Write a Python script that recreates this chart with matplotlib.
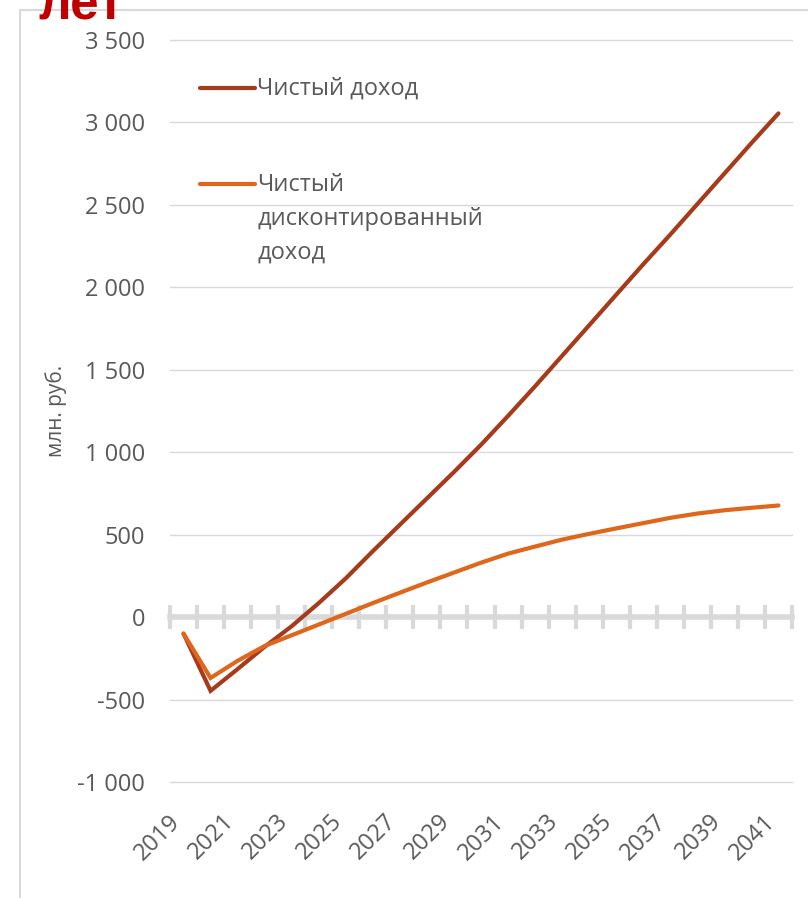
import matplotlib
matplotlib.use("Agg")
import matplotlib.pyplot as plt
import numpy as np
from matplotlib.patches import Rectangle
from matplotlib.transforms import ScaledTranslation

plt.rcParams['font.family'] = ['Open Sans', 'DejaVu Sans']

years = list(range(2019, 2042))
net = [-100, -447, -315, -180, -55, 85, 235, 400, 560, 720, 880, 1045,
       1220, 1400, 1585, 1770, 1955, 2140, 2320, 2505, 2690, 2875, 3055]
disc = [-100, -369, -265, -175, -110, -45, 20, 85, 148, 210, 270, 330,
        385, 428, 470, 505, 538, 570, 602, 628, 648, 663, 677]
labels = ["Чистый доход", "Чистый\nдисконтированный\nдоход"]
yticks = list(range(-1000, 3501, 500))

c_net = "#A63A1A"
c_disc = "#E0661C"
grey_txt = "#595959"
grid_c = "#d9d9d9"

W, H = 808, 898
fig = plt.figure(figsize=(W / 100, H / 100), dpi=100)
ax = fig.add_axes([170 / W, 1 - 782 / H, (792 - 170) / W, (782 - 40) / H])

x = np.arange(len(years))
ax.plot(x, net, color=c_net, lw=3, solid_joinstyle="miter", solid_capstyle="round", zorder=3)
ax.plot(x, disc, color=c_disc, lw=3, solid_joinstyle="miter", solid_capstyle="round", zorder=3)

ax.set_xlim(-0.5, len(years) - 0.5)
ax.set_ylim(-1000, 3500)
ax.set_yticks(yticks)
ax.set_yticklabels([f"{v:,}".replace(",", " ") for v in yticks])
ax.grid(axis="y", color=grid_c, lw=1)
for gl in ax.get_ygridlines():
    gl.set_clip_on(False)
ax.set_axisbelow(True)
for s in ax.spines.values():
    s.set_visible(False)
ax.tick_params(axis="y", length=0, pad=18, labelsize=17, labelcolor=grey_txt)

ax.set_xticks(x[::2])
ax.set_xticklabels([str(y) for y in years[::2]], rotation=45, ha="right",
                   va="center", rotation_mode="anchor")
ax.tick_params(axis="x", length=0, pad=26, labelsize=17, labelcolor=grey_txt)
for lab in ax.get_xticklabels():
    lab.set_transform(lab.get_transform() + ScaledTranslation(-0.07, 0, fig.dpi_scale_trans))

ax.set_ylabel("млн. руб.", fontsize=15, color=grey_txt, labelpad=7)

# horizontal category axis at y = 0
y0 = (0 - ax.get_ylim()[0]) / (ax.get_ylim()[1] - ax.get_ylim()[0])
sec = ax.secondary_xaxis(y0)
sec.set_xticks(np.arange(-0.5, len(years), 1.0))
sec.tick_params(axis="x", direction="inout", length=17, width=3, color=grid_c,
                labelbottom=False, labeltop=False)
for s in sec.spines.values():
    s.set_color(grid_c)
    s.set_linewidth(4)

# legend, handle aligned with first text line
for (yy, col, lab) in [(0.935, c_net, labels[0]), (0.806, c_disc, labels[1])]:
    ax.plot([0.048, 0.137], [yy, yy], color=col, lw=3, solid_capstyle="round",
            transform=ax.transAxes, clip_on=False)
    ax.text(0.140, yy + 0.015, lab, transform=ax.transAxes, ha="left", va="top",
            fontsize=17, color=grey_txt, linespacing=1.55)

# outer frame and clipped title
fig.add_artist(Rectangle((20 / W, -0.05), 1.0, 1.05 - 10 / H, fill=False,
                         edgecolor=grid_c, lw=1.5, transform=fig.transFigure, zorder=0))
fig.text(38 / W, 1 - 20 / H, "лет", fontsize=37, fontweight="bold", color="#C00000",
         family=["Liberation Sans", "DejaVu Sans"], va="baseline", ha="left", zorder=5)

fig.savefig("out.png", dpi=100)
